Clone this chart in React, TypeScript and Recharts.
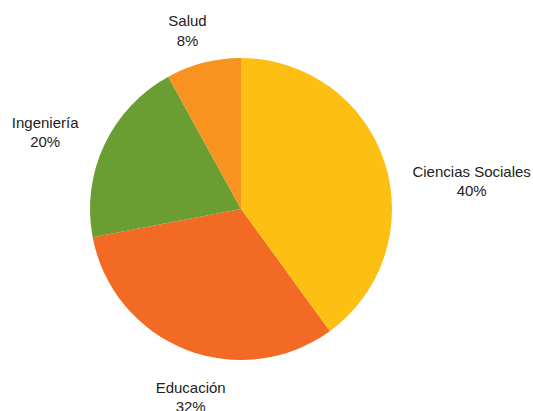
import React from 'react'
import { PieChart, Pie, Cell } from 'recharts'

// ─── Data ─────────────────────────────────────────────────────────────────────

const CATEGORIES = ['Ciencias Sociales', 'Educación', 'Ingeniería', 'Salud']
const SHARES = [40, 32, 20, 8]
const COLORS = ['#FDBF12', '#F26A23', '#6A9E32', '#F7931E']

// label fine-tuning relative to the radial anchor (dx, dy in px)
const LABEL_NUDGE: Array<[number, number]> = [
  [49, 27],
  [20, 6],
  [-23, 0],
  [-6, 2],
]

const data = CATEGORIES.map((name, i) => ({ name, value: SHARES[i] }))

const RAD = Math.PI / 180
const FONT = '"Liberation Sans", Arial, Helvetica, sans-serif'

// ─── Label ────────────────────────────────────────────────────────────────────

function SliceLabel(props: any) {
  const { cx, cy, midAngle, outerRadius, index, name, value } = props
  const r = outerRadius + 40
  const [dx, dy] = LABEL_NUDGE[index] ?? [0, 0]
  const x = cx + r * Math.cos(-midAngle * RAD) + dx
  const y = cy + r * Math.sin(-midAngle * RAD) + dy
  return (
    <text x={x} y={y} textAnchor="middle" fill="#222" fontSize={15} fontFamily={FONT}>
      <tspan x={x} y={y}>{name}</tspan>
      <tspan x={x} dy={19.5}>{value}%</tspan>
    </text>
  )
}

// ─── Component ────────────────────────────────────────────────────────────────

export default function App() {
  return (
    <div style={{ position: 'absolute', left: 0, top: 0, width: 533, height: 411, background: '#fff' }}>
      <PieChart width={533} height={411} margin={{ top: 0, right: 0, bottom: 0, left: 0 }}>
        <Pie
          data={data}
          dataKey="value"
          nameKey="name"
          cx={241}
          cy={209}
          outerRadius={151}
          startAngle={90}
          endAngle={-270}
          stroke="none"
          labelLine={false}
          label={SliceLabel}
          isAnimationActive={false}
        >
          {data.map((d, i) => (
            <Cell key={d.name} fill={COLORS[i]} />
          ))}
        </Pie>
      </PieChart>
    </div>
  )
}
